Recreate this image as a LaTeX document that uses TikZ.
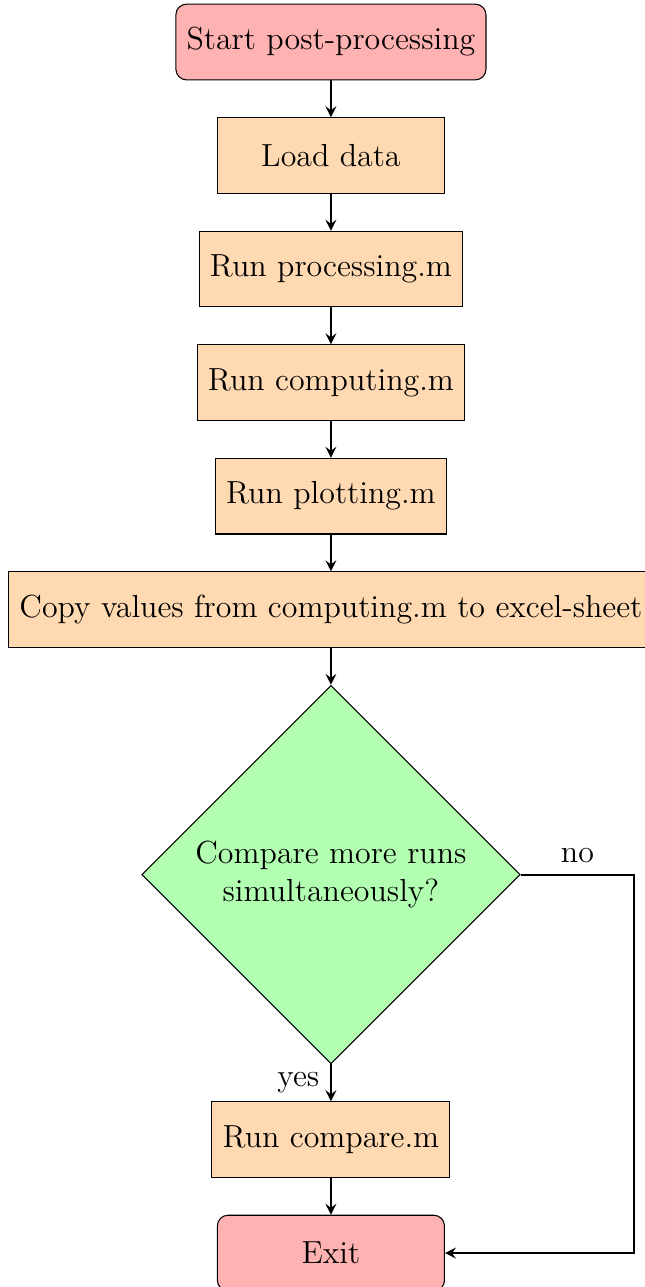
\documentclass[tikz,border=0pt,12pt]{standalone}
\usetikzlibrary{shapes.geometric,arrows}

\tikzset{
  startstop/.style={rectangle, rounded corners, minimum width=3cm, minimum height=1cm,
    text centered, draw=black, fill=red!30},
  process/.style={rectangle, minimum width=3cm, minimum height=1cm,
    text centered, draw=black, fill=orange!30},
  decision/.style={diamond, minimum width=5cm, minimum height=5cm, inner sep=0pt,
    align=center, draw=black, fill=green!30},
  arrow/.style={thick, ->, >=stealth}
}

\begin{document}
\begin{tikzpicture}
  \useasboundingbox (-124.4pt,-468.0pt) rectangle (117.7pt,15.8pt);

  % main column of steps
  \node (start)   [startstop] at (0,0)       {Start post-processing};
  \node (load)    [process]   at (0,-1.5cm)  {Load data};
  \node (proc)    [process]   at (0,-3cm)    {Run processing.m};
  \node (comp)    [process]   at (0,-4.5cm)  {Run computing.m};
  \node (plot)    [process]   at (0,-6cm)    {Run plotting.m};
  \node (copy)    [process]   at (0,-7.5cm)  {Copy values from computing.m to excel-sheet};
  \node (dec)     [decision]  at (0,-11cm)   {Compare more runs\\simultaneously?};
  \node (compare) [process]   at (0,-14.5cm) {Run compare.m};
  \node (exit)    [startstop] at (0,-16cm)   {Exit};

  % connectors
  \draw [arrow] (start) -- (load);
  \draw [arrow] (load) -- (proc);
  \draw [arrow] (proc) -- (comp);
  \draw [arrow] (comp) -- (plot);
  \draw [arrow] (plot) -- (copy);
  \draw [arrow] (copy) -- (dec);
  \draw [arrow] (dec) -- node[anchor=east] {yes} (compare);
  \draw [arrow] (compare) -- (exit);
  \draw [arrow] (dec.east) -- node[anchor=south] {no} ++(1.5cm,0) |- (exit.east);
\end{tikzpicture}
\end{document}
